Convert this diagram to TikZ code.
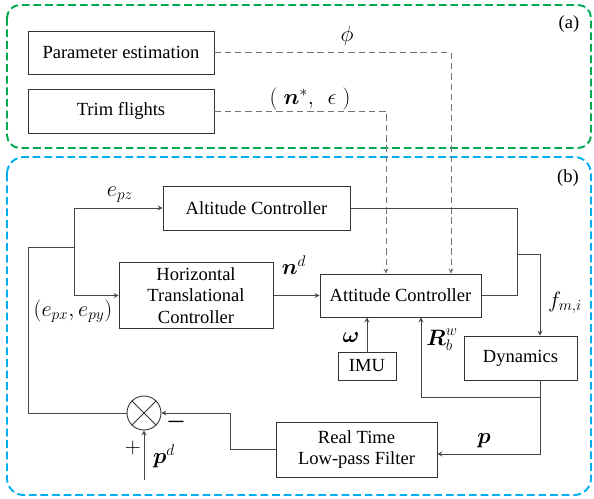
\documentclass[tikz,border=0pt]{standalone}
\usepackage{amsmath,amssymb}
\usepackage{fontspec}
\setmainfont{Liberation Serif}
\usetikzlibrary{calc}
\definecolor{trimgreen}{RGB}{0,168,80}
\definecolor{loopblue}{RGB}{0,174,239}
\definecolor{wiregray}{RGB}{70,70,70}

\begin{document}
\begin{tikzpicture}[x=0.777pt,y=-0.777pt,>=stealth,
    boxsize/.style 2 args={minimum width=#1*0.777pt, minimum height=#2*0.777pt},
    blk/.style={draw=black!80, line width=0.7pt, inner sep=0pt, align=center,
      font=\fontsize{14.4}{16.8}\selectfont},
    lbl/.style={inner sep=0pt, font=\fontsize{14.4}{16.8}\selectfont},
    mlbl/.style={inner sep=0pt, font=\fontsize{17.28}{20}\selectfont},
    wire/.style={draw=wiregray, line width=0.7pt},
    dwire/.style={draw=gray!90!black, line width=0.7pt, dash pattern=on 5pt off 3pt},
    frame/.style={line width=1.5pt, dash pattern=on 6pt off 3pt}]
    \useasboundingbox (0,0) rectangle (594,499);
    % the two dashed groups
    \draw[frame, trimgreen, rounded corners=10pt] (7,5) rectangle (591,148);
    \draw[frame, loopblue, rounded corners=13pt] (7,157) rectangle (591,495);
    \node[lbl] (alabel) at (569,24) {(a)};
    \node[lbl] (blabel) at (568,178) {(b)};

    % blocks
    \node[blk, boxsize={186}{43}] (param) at (121,52.5) {Parameter estimation};
    \node[blk, boxsize={186}{44}] (trim) at (121,111) {Trim flights};
    \node[blk, boxsize={187}{44}] (alt) at (256.5,208) {Altitude Controller};
    \node[blk, boxsize={154}{66}] (horiz) at (196,295.5) {Horizontal\\Translational\\Controller};
    \node[blk, boxsize={161}{43}] (att) at (400.5,295.5) {Attitude Controller};
    \node[blk, boxsize={58}{28}] (imu) at (367,366) {IMU};
    \node[blk, boxsize={113}{44}] (dyn) at (520.5,358) {Dynamics};
    \node[blk, boxsize={161}{55}] (filt) at (356.5,449.5) {Real Time\\Low-pass Filter};
    \node[draw=black!80, line width=0.7pt, circle, minimum size=34*0.777pt, inner sep=0pt] (sum) at (144,413) {};
    \draw[black!80, line width=0.7pt] (sum.north west) -- (sum.south east)
      (sum.north east) -- (sum.south west);

    % offline inputs
    \coordinate (phiturn) at (451,52.5);
    \coordinate (trimturn) at (386,111);
    \draw[dwire,->] (param.east) -- (phiturn) -- (phiturn |- att.north);
    \draw[dwire,->] (trim.east) -- (trimturn) -- (trimturn |- att.north);
    \node[mlbl] (philbl) at (347,36) {$\phi$};
    \node[mlbl] (nstarlbl) at (310,99) {$(\;\boldsymbol{n}^{*},\;\,\epsilon\;)$};

    % controller outputs to the dynamics
    \coordinate (altturn) at (517,208);
    \coordinate (fsplit) at (517,254);
    \coordinate (dynin) at (540,254);
    \draw[wire] (alt.east) -- (altturn) -- (altturn |- att.east) -- (att.east);
    \draw[wire,->] (fsplit) -- (dynin) -- (dynin |- dyn.north);
    \node[mlbl] (flbl) at (565,303) {$f_{m,i}$};

    \draw[wire,->] (horiz.east) -- (att.west);
    \node[mlbl] (ndlbl) at (294,265) {$\boldsymbol{n}^{d}$};
    \draw[wire,->] (imu.north) -- (imu.north |- att.south);
    \node[mlbl] (omegalbl) at (351,338) {$\boldsymbol{\omega}$};

    % measured states
    \coordinate (dynout) at (540,380);
    \coordinate (rfork) at (540,397);
    \coordinate (rturn) at (421,397);
    \coordinate (pturn) at (540,454);
    \draw[wire,->] (rfork) -- (rturn) -- (rturn |- att.south);
    \node[mlbl] (rlbl) at (442,340) {$\boldsymbol{R}_b^w$};
    \draw[wire,->] (dynout) -- (pturn) -- (pturn -| filt.east);
    \node[mlbl] (plbl) at (484,441) {$\boldsymbol{p}$};

    % position error loop
    \coordinate (fturn) at (230,449.5);
    \draw[wire,->] (filt.west) -- (fturn) |- (sum.east);
    \node[mlbl] (minuslbl) at (176,422) {$\boldsymbol{-}$};
    \coordinate (pdin) at (144,480);
    \draw[wire,->] (pdin) -- (sum.south);
    \node[mlbl] (pluslbl) at (133,448) {$+$};
    \node[mlbl] (pdlbl) at (164,456) {$\boldsymbol{p}^{d}$};

    \coordinate (fbdown) at (28,413);
    \coordinate (fbup) at (28,247);
    \coordinate (branch) at (74,247);
    \draw[wire] (sum.west) -- (fbdown) -- (fbup) -- (branch);
    \draw[wire,->] (branch) |- (alt.west);
    \draw[wire,->] (branch) |- (horiz.west);
    \node[mlbl] (epzlbl) at (120,195) {$e_{pz}$};
    \node[mlbl] (epxylbl) at (73,311) {$(e_{px},e_{py})$};
\end{tikzpicture}
\end{document}
